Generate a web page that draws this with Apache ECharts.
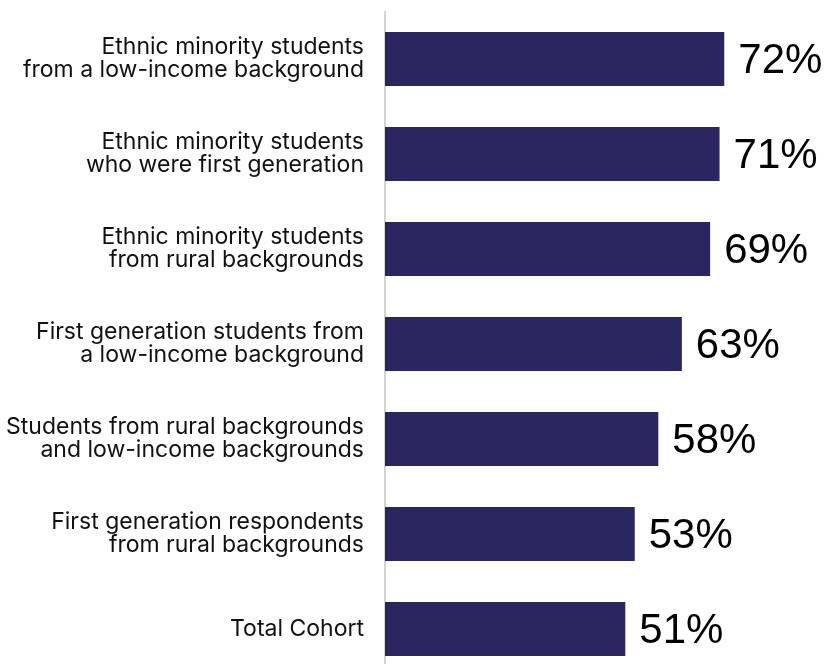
<!DOCTYPE html>
<html>
<head>
<meta charset="utf-8">
<script src="https://cdn.jsdelivr.net/npm/echarts@6/dist/echarts.min.js"></script>
<style>html,body{margin:0;padding:0;background:#fff}#c{width:835px;height:664px}</style>
</head>
<body>
<div id="c"></div>
<script>
const categories = [
  "Ethnic minority students\nfrom a low-income background",
  "Ethnic minority students\nwho were first generation",
  "Ethnic minority students\nfrom rural backgrounds",
  "First generation students from\na low-income background",
  "Students from rural backgrounds\nand low-income backgrounds",
  "First generation respondents\nfrom rural backgrounds",
  "Total Cohort"
];
const values = [72, 71, 69, 63, 58, 53, 51];

const chart = echarts.init(document.getElementById('c'), null, {renderer: 'canvas'});
chart.setOption({
  animation: false,
  backgroundColor: '#ffffff',
  grid: {left: 385, top: 11.5, right: 0, bottom: -12.5, containLabel: false, outerBoundsMode: 'none'},
  xAxis: {
    type: 'value', min: 0, max: 95.5,
    show: false
  },
  yAxis: {
    type: 'category', data: categories, inverse: true,
    axisLine: {show: true, lineStyle: {color: '#d4d4d4', width: 2}},
    axisTick: {show: false},
    axisLabel: {
      margin: 21, color: '#111111', fontFamily: 'Inter', fontSize: 23,
      lineHeight: 23, align: 'right'
    }
  },
  series: [{
    type: 'bar', data: values, barWidth: 54,
    itemStyle: {color: '#2a2760'},
    label: {
      show: true, position: 'right', distance: 14, offset: [0, 2],
      formatter: p => p.value + '%',
      color: '#000000', fontFamily: 'Liberation Sans', fontSize: 42
    }
  }]
});
</script>
</body>
</html>
